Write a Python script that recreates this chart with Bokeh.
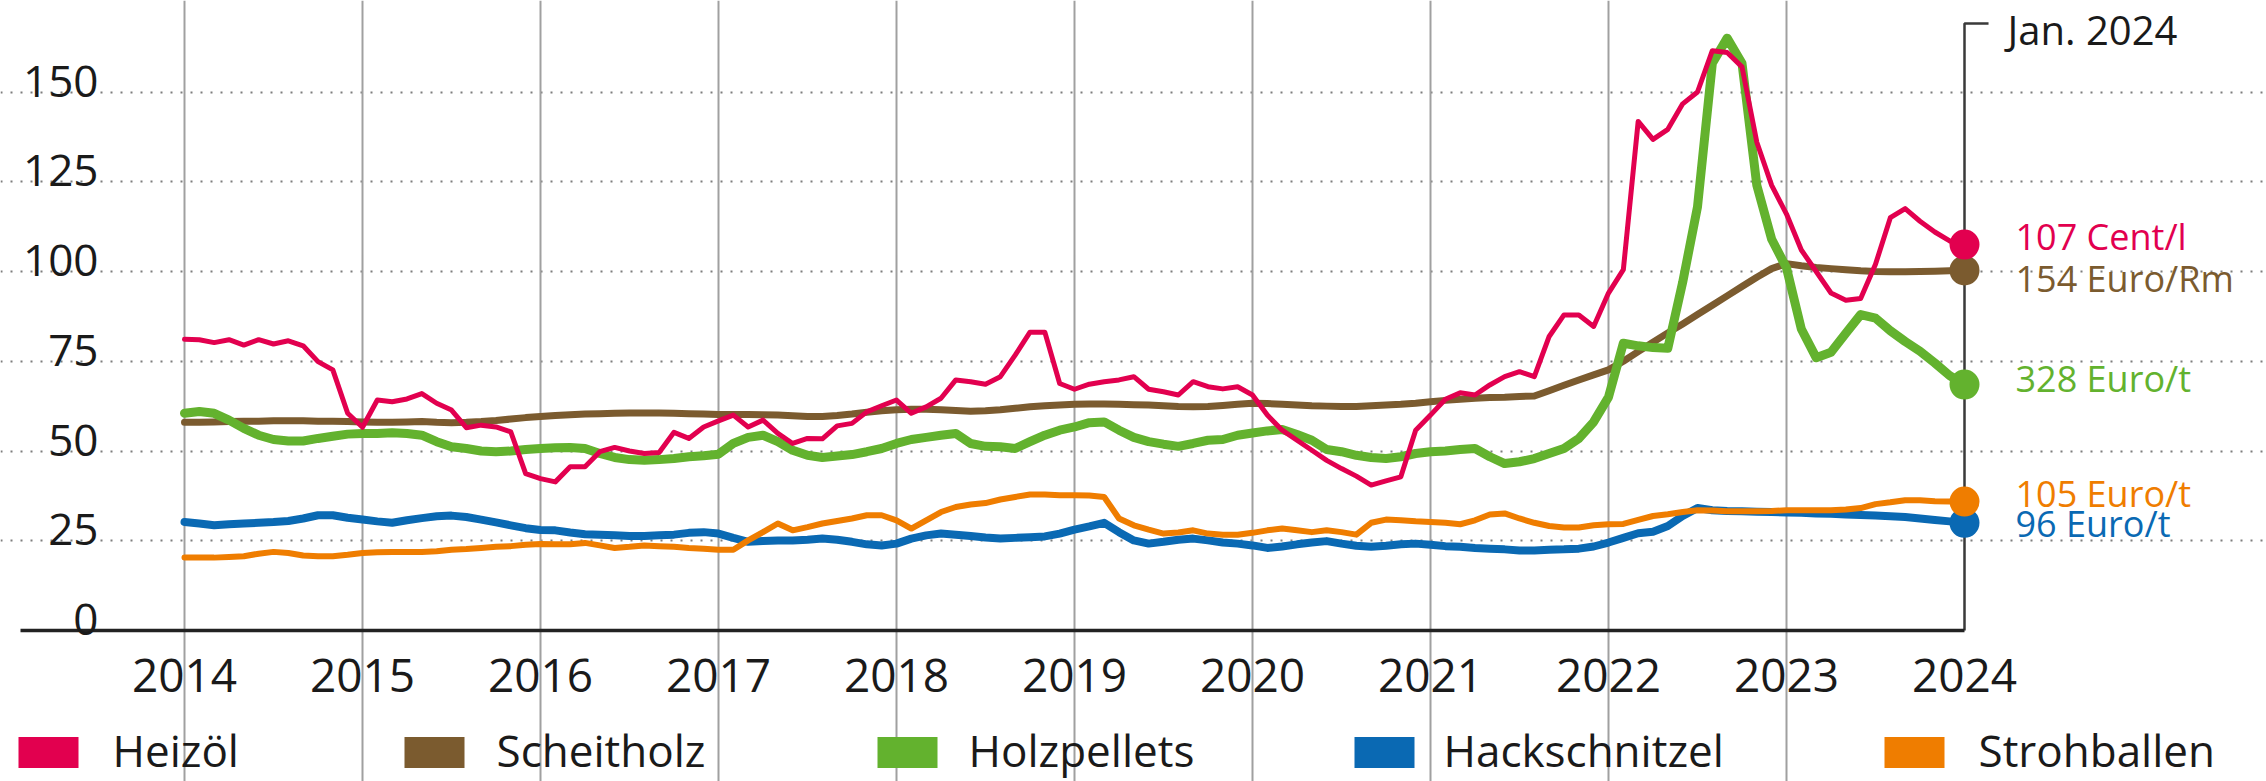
from bokeh.plotting import figure
from bokeh.models import Range1d, Grid, FixedTicker
from bokeh.core.properties import value
from bokeh.embed import file_html
from bokeh.resources import INLINE

# ---------------- data (monthly, Jan 2014 .. Jan 2024) ----------------
start_year = 2014
heizoel = [
    81.1, 81.0, 80.2, 81.0, 79.5, 81.0, 79.8, 80.7, 79.3, 74.9, 72.6, 60.5,
    56.6, 64.2, 63.7, 64.5, 66.0, 63.3, 61.4, 56.5, 57.2, 56.7, 55.3, 43.7,
    42.3, 41.4, 45.6, 45.6, 49.8, 51.0, 50.0, 49.3, 49.6, 55.2, 53.5, 56.7,
    58.4, 60.0, 56.7, 58.6, 54.9, 52.1, 53.5, 53.4, 57.0, 57.7, 60.9, 62.6,
    64.2, 60.5, 62.3, 64.7, 69.8, 69.3, 68.6, 70.7, 76.7, 83.1, 83.1, 68.8,
    67.2, 68.6, 69.3, 69.8, 70.7, 67.2, 66.5, 65.6, 69.3, 67.9, 67.3, 67.9,
    65.6, 60.0, 55.8, 53.0, 50.2, 47.4, 45.1, 43.0, 40.5, 41.7, 42.8, 55.8,
    60.0, 64.4, 66.2, 65.6, 68.4, 70.7, 72.1, 70.7, 81.9, 87.9, 87.9, 84.7,
    94.0, 100.5, 141.8, 136.8, 139.6, 146.7, 150.0, 161.5, 161.0, 157.0, 136.0, 124.0,
    116.0, 106.0, 100.0, 94.0, 92.0, 92.5, 102.0, 115.0, 117.5, 114.0, 111.0, 108.5,
    107.5,
]
scheitholz = [
    58.0, 58.0, 58.1, 58.2, 58.3, 58.3, 58.4, 58.4, 58.4, 58.3, 58.3, 58.2,
    58.1, 58.0, 58.0, 58.1, 58.2, 58.0, 57.9, 58.0, 58.2, 58.5, 58.9, 59.3,
    59.6, 59.9, 60.1, 60.3, 60.4, 60.5, 60.6, 60.6, 60.6, 60.5, 60.4, 60.3,
    60.2, 60.2, 60.2, 60.1, 60.0, 59.8, 59.6, 59.6, 59.9, 60.3, 60.8, 61.2,
    61.5, 61.6, 61.6, 61.5, 61.3, 61.1, 61.2, 61.5, 61.9, 62.3, 62.6, 62.8,
    63.0, 63.1, 63.1, 63.0, 62.9, 62.8, 62.6, 62.4, 62.3, 62.4, 62.7, 63.0,
    63.3, 63.2, 63.0, 62.8, 62.6, 62.5, 62.4, 62.4, 62.6, 62.8, 63.0, 63.3,
    63.7, 64.1, 64.4, 64.7, 64.9, 65.0, 65.2, 65.3, 66.8, 68.3, 69.8, 71.2,
    72.6, 75.0, 77.7, 80.3, 82.9, 85.4, 88.0, 90.6, 93.2, 95.8, 98.4, 100.8,
    102.2, 101.6, 101.1, 100.8, 100.5, 100.2, 100.0, 99.9, 99.9, 100.0, 100.1, 100.2,
    100.3,
]
holzpellets = [
    60.5, 61.0, 60.5, 58.6, 56.3, 54.4, 53.2, 52.8, 52.8, 53.5, 54.1, 54.7,
    54.9, 54.9, 55.1, 54.9, 54.4, 52.6, 51.2, 50.7, 50.0, 49.8, 50.0, 50.4,
    50.7, 50.9, 51.0, 50.7, 49.3, 48.2, 47.6, 47.4, 47.6, 47.9, 48.4, 48.7,
    49.1, 52.1, 53.8, 54.4, 52.6, 50.2, 48.8, 48.2, 48.6, 49.0, 49.8, 50.7,
    52.1, 53.2, 53.8, 54.4, 54.9, 52.1, 51.3, 51.2, 50.7, 52.6, 54.4, 55.8,
    56.7, 57.9, 58.1, 55.8, 53.8, 52.6, 51.9, 51.3, 52.1, 53.0, 53.2, 54.4,
    55.0, 55.6, 56.0, 54.6, 53.0, 50.4, 49.8, 48.8, 48.2, 47.9, 48.4, 49.3,
    49.8, 50.0, 50.4, 50.7, 48.4, 46.5, 47.0, 47.9, 49.3, 50.7, 53.5, 58.1,
    65.0, 80.0, 79.3, 78.8, 78.6, 97.0, 118.0, 158.0, 165.0, 158.0, 124.0, 109.0,
    101.0, 84.0, 76.0, 77.5, 82.8, 88.0, 87.0, 83.5, 80.5, 77.8, 74.5, 71.0,
    68.5,
]
hackschnitzel = [
    30.2, 29.8, 29.3, 29.6, 29.8, 30.0, 30.2, 30.5, 31.2, 32.1, 32.1, 31.4,
    30.9, 30.4, 30.0, 30.7, 31.3, 31.8, 32.0, 31.6, 30.9, 30.1, 29.3, 28.5,
    28.0, 27.9, 27.3, 26.8, 26.7, 26.5, 26.3, 26.3, 26.5, 26.7, 27.2, 27.4,
    27.0, 25.8, 24.7, 24.9, 25.1, 25.1, 25.3, 25.6, 25.3, 24.7, 24.0, 23.7,
    24.2, 25.6, 26.5, 27.0, 26.7, 26.3, 25.9, 25.6, 25.8, 26.0, 26.2, 27.0,
    28.1, 29.0, 30.0, 27.4, 25.1, 24.2, 24.7, 25.3, 25.6, 25.1, 24.5, 24.2,
    23.7, 23.0, 23.4, 24.0, 24.5, 24.9, 24.2, 23.6, 23.3, 23.6, 24.0, 24.2,
    23.9, 23.5, 23.3, 23.0, 22.8, 22.6, 22.3, 22.3, 22.5, 22.6, 22.8, 23.4,
    24.5, 25.8, 27.1, 27.5, 29.1, 31.9, 34.1, 33.5, 33.3, 33.2, 33.1, 33.0,
    32.9, 32.8, 32.6, 32.5, 32.3, 32.2, 32.0, 31.8, 31.6, 31.2, 30.8, 30.4,
    30.0,
]
strohballen = [
    20.3, 20.3, 20.3, 20.5, 20.7, 21.4, 21.9, 21.6, 20.9, 20.7, 20.7, 21.1,
    21.6, 21.8, 21.9, 21.9, 21.9, 22.1, 22.5, 22.7, 23.0, 23.3, 23.5, 23.9,
    24.1, 24.0, 24.0, 24.4, 23.7, 23.0, 23.3, 23.7, 23.5, 23.3, 23.0, 22.8,
    22.5, 22.5, 25.1, 27.4, 29.8, 27.9, 28.8, 29.8, 30.5, 31.2, 32.1, 32.1,
    30.7, 28.4, 30.7, 33.0, 34.4, 35.1, 35.5, 36.5, 37.2, 37.9, 37.9, 37.7,
    37.7, 37.6, 37.2, 31.2, 29.3, 28.1, 27.0, 27.3, 27.9, 27.0, 26.7, 26.7,
    27.2, 27.9, 28.4, 27.9, 27.4, 27.9, 27.4, 26.7, 30.0, 30.9, 30.7, 30.4,
    30.2, 30.0, 29.6, 30.7, 32.3, 32.6, 31.2, 30.0, 29.1, 28.7, 28.7, 29.3,
    29.6, 29.7, 30.8, 31.9, 32.4, 33.0, 33.5, 33.4, 33.2, 33.2, 33.2, 33.3,
    33.5, 33.5, 33.5, 33.5, 33.7, 34.1, 35.2, 35.7, 36.3, 36.3, 36.0, 35.9,
    35.9,
]

series_names = ["Heizöl", "Scheitholz", "Holzpellets", "Hackschnitzel", "Strohballen"]
end_labels = ["107 Cent/l", "154 Euro/Rm", "328 Euro/t", "96 Euro/t", "105 Euro/t"]
year_ticks = list(range(2014, 2025))
y_ticks = [0, 25, 50, 75, 100, 125, 150]
y_tick_labels = ["0", "25", "50", "75", "100", "125", "150"]
corner_label = "Jan. 2024"

# ---------------- styling / layout ----------------
colors = {
    "Heizöl": "#e2004f",
    "Scheitholz": "#7b5b2f",
    "Holzpellets": "#63b22e",
    "Hackschnitzel": "#0a69b3",
    "Strohballen": "#ef7d00",
}
widths = {"Heizöl": 5, "Scheitholz": 7, "Holzpellets": 9, "Hackschnitzel": 8, "Strohballen": 6}
FONT = value("Open Sans")
INK = "#1a1a1a"

x = [start_year + i / 12 for i in range(len(heizoel))]
data = {
    "Heizöl": heizoel,
    "Scheitholz": scheitholz,
    "Holzpellets": holzpellets,
    "Hackschnitzel": hackschnitzel,
    "Strohballen": strohballen,
}

# pixel geometry of the reference: 2014 at x=184, 178 px per year; y=0 at 630, 3.59 px per unit
PX_X0, PX_PER_YEAR = 184.0, 178.0
PX_Y0, PX_PER_UNIT = 630.0, 3.59
W, H = 2266, 781
to_year = lambda px: 2014 + (px - PX_X0) / PX_PER_YEAR
to_val = lambda py: (PX_Y0 - py) / PX_PER_UNIT

p = figure(width=W, height=H,
           x_range=Range1d(to_year(0), to_year(W)),
           y_range=Range1d(to_val(H), to_val(0)),
           x_axis_type=None, y_axis_type=None,
           toolbar_location=None, output_backend="svg",
           min_border=0, outline_line_color=None)
p.background_fill_color = "white"
p.border_fill_color = "white"

x_end = year_ticks[-1]
top = to_val(23)
left_edge = to_year(20)

# grids
hgrid = Grid(dimension=1, ticker=FixedTicker(ticks=y_ticks[1:]), bounds=(left_edge, x_end),
             grid_line_color="#7d7d7d", grid_line_width=2, grid_line_dash="2 8")
vgrid = Grid(dimension=0, ticker=FixedTicker(ticks=year_ticks[:-1]), bounds=(0, top),
             grid_line_color="#a0a0a0", grid_line_width=2)
p.add_layout(hgrid)
p.add_layout(vgrid)

# right frame line with small top tick, baseline
p.line([x_end, x_end, x_end + 0.135], [0, top, top], line_color="#3a3a3a", line_width=2.5)
p.line([left_edge, x_end], [0, 0], line_color="#222222", line_width=3.5)

# series (draw order so that red is on top)
order = ["Hackschnitzel", "Strohballen", "Scheitholz", "Holzpellets", "Heizöl"]
for name in order:
    p.line(x, data[name], line_color=colors[name], line_width=widths[name],
           line_join="round", line_cap="round")
for name in order:
    p.scatter([x[-1]], [data[name][-1]], size=30, fill_color=colors[name], line_color=None)

# y tick labels (inside, above gridlines)
p.text(x=[to_year(98)] * len(y_ticks), y=y_ticks, text=y_tick_labels, text_font=FONT,
       text_font_size="44px", text_color=INK, text_align="right", text_baseline="alphabetic",
       y_offset=-11)

# year labels
p.text(x=year_ticks, y=[to_val(675)] * len(year_ticks), text=[str(t) for t in year_ticks],
       text_font=FONT, text_font_size="46px", text_color=INK, text_align="center",
       text_baseline="middle")

# corner label
p.text(x=[to_year(2007)], y=[to_val(29)], text=[corner_label], text_font=FONT, text_font_size="40px",
       text_color=INK, text_align="left", text_baseline="middle")

# end labels
end_label_y = [to_val(236), to_val(278), to_val(378), to_val(523), to_val(493)]
end_label_colors = [colors["Heizöl"], colors["Scheitholz"], colors["Holzpellets"],
                    colors["Hackschnitzel"], colors["Strohballen"]]
p.text(x=[to_year(2015)] * 5, y=end_label_y, text=end_labels, text_font=FONT, text_font_size="36px",
       text_color=end_label_colors, text_align="left", text_baseline="middle")

# legend (manual, single row below the chart)
legend_box_px = [48, 434, 907, 1384, 1914]
legend_text_px = [112, 496, 968, 1443, 1978]
p.rect(x=[to_year(v) for v in legend_box_px], y=[to_val(752)] * 5, width=60, height=31,
       width_units="screen", height_units="screen",
       fill_color=[colors[n] for n in series_names], line_color=None)
p.text(x=[to_year(v) for v in legend_text_px], y=[to_val(749)] * 5, text=series_names, text_font=FONT,
       text_font_size="44px", text_color=INK, text_align="left", text_baseline="middle")

open("out.html", "w").write(file_html(p, INLINE))
